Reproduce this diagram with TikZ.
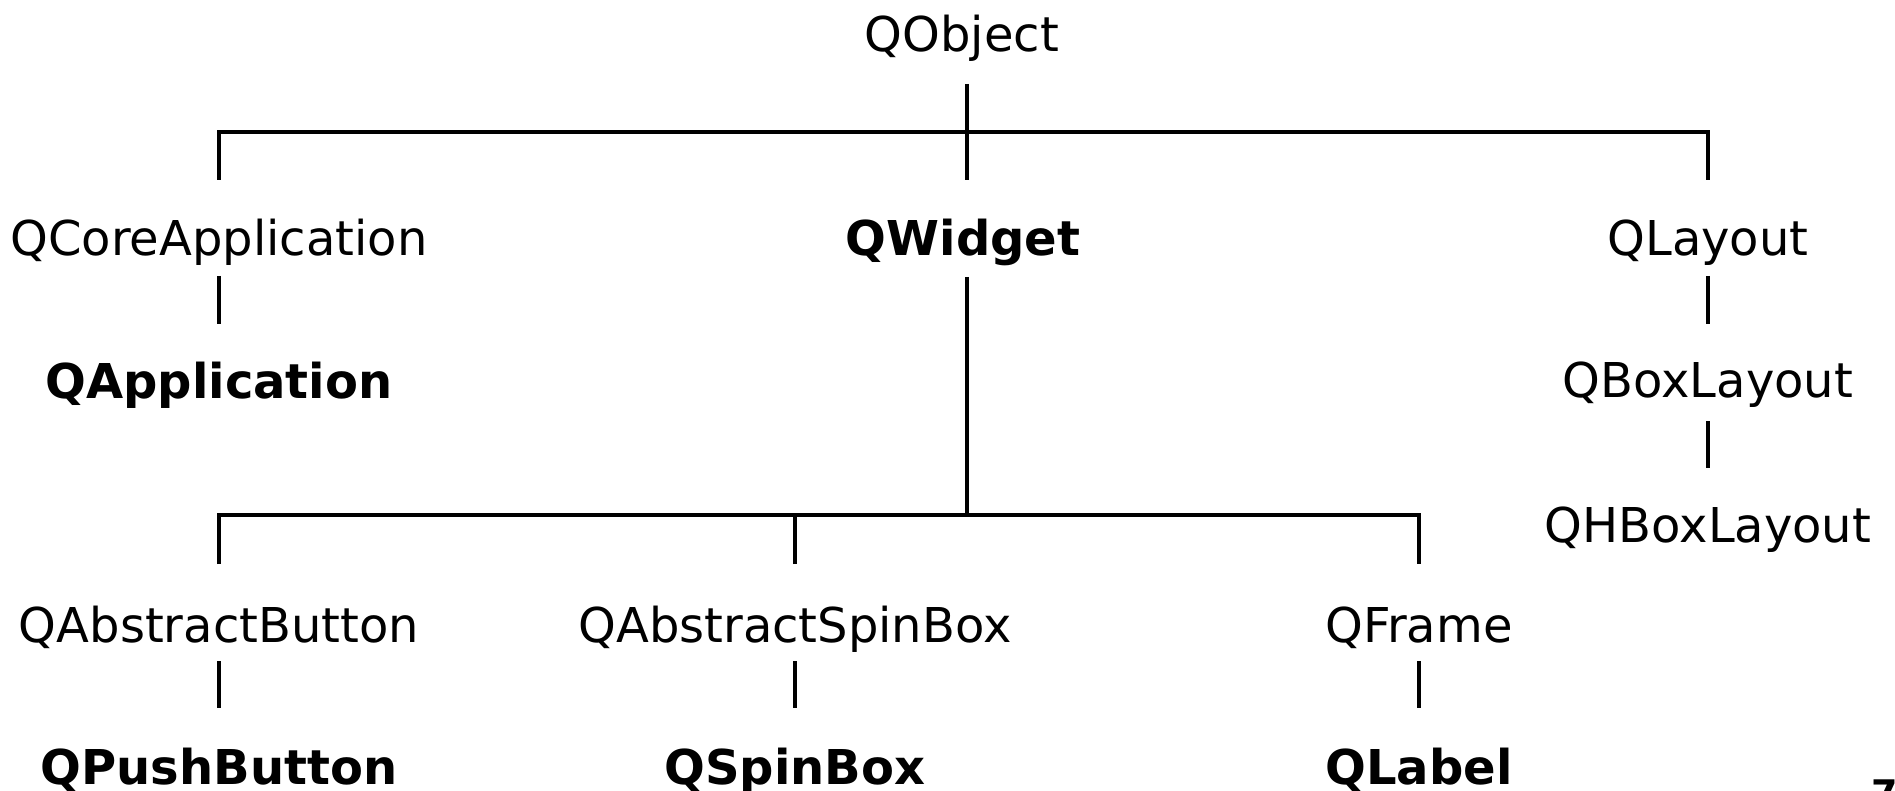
\documentclass[tikz,border=0pt]{standalone}
\usepackage{fontspec}
\setmainfont{DejaVu Sans}
\tikzset{
  cls/.style={anchor=base, inner sep=0pt, font=\fontsize{48pt}{58pt}\selectfont},
  key/.style={cls, font=\fontsize{48pt}{58pt}\selectfont\bfseries},
  link/.style={draw=black, line width=3.4pt},
  pagenum/.style={anchor=base west, inner sep=0pt, font=\fontsize{38pt}{46pt}\selectfont\bfseries}
}
\begin{document}
\begin{tikzpicture}[x=1pt, y=-1pt]
\useasboundingbox (0,0) rectangle (1895,791);
% nodes
\node[cls] (qobject) at (962,52) {QObject};
\node[cls] (qcore) at (219,256) {QCoreApplication};
\node[key] (qwidget) at (963,256) {QWidget};
\node[cls] (qlayout) at (1708,256) {QLayout};
\node[key] (qapp) at (219,399) {QApplication};
\node[cls] (qbox) at (1708,398) {QBoxLayout};
\node[cls] (qhbox) at (1708,542) {QHBoxLayout};
\node[cls] (qabsbtn) at (219,642) {QAbstractButton};
\node[cls] (qabsspin) at (795,642) {QAbstractSpinBox};
\node[cls] (qframe) at (1419,642) {QFrame};
\node[key] (qpush) at (219,784) {QPushButton};
\node[key] (qspin) at (795,784) {QSpinBox};
\node[key] (qlabel) at (1419,784) {QLabel};
\node[pagenum] (page) at (1871,807) {7};
% junctions
\coordinate (tj) at (967,132);
\coordinate (bj) at (967,515);
% top level
\draw[link] ([yshift=-32pt]qobject.base -| tj) -- ([yshift=76pt]qwidget.base -| tj);
\draw[link] ([yshift=76pt]qcore.base) |- (tj) -| ([yshift=76pt]qlayout.base);
% left branch
\draw[link] ([yshift=-20pt]qcore.base) -- ([yshift=75pt]qapp.base);
% right branch
\draw[link] ([yshift=-20pt]qlayout.base) -- ([yshift=74pt]qbox.base);
\draw[link] ([yshift=-23pt]qbox.base) -- ([yshift=74pt]qhbox.base);
% widget branch
\draw[link] ([yshift=-21pt]qwidget.base -| bj) -- (bj);
\draw[link] ([yshift=78pt]qabsbtn.base) |- (bj) -| ([yshift=78pt]qframe.base);
\draw[link] ([yshift=78pt]qabsspin.base) -- (qabsspin.base |- bj);
% leaves
\draw[link] ([yshift=-19pt]qabsbtn.base) -- ([yshift=76pt]qpush.base);
\draw[link] ([yshift=-19pt]qabsspin.base) -- ([yshift=76pt]qspin.base);
\draw[link] ([yshift=-19pt]qframe.base) -- ([yshift=76pt]qlabel.base);
\end{tikzpicture}
\end{document}
